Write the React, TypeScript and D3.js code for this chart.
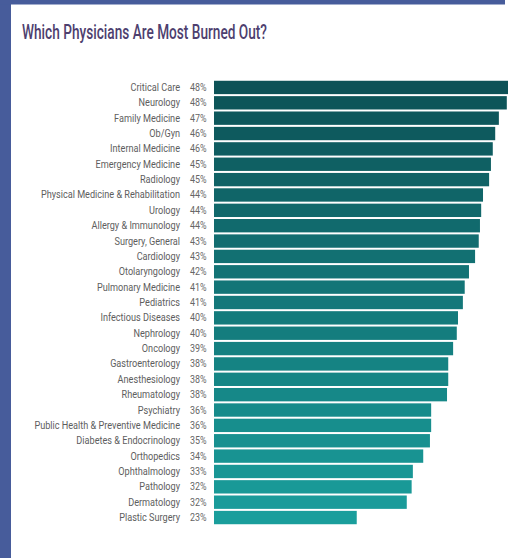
import React from "react";
import * as d3 from "d3";

const specialties = [
  "Critical Care", "Neurology", "Family Medicine", "Ob/Gyn", "Internal Medicine",
  "Emergency Medicine", "Radiology", "Physical Medicine & Rehabilitation", "Urology",
  "Allergy & Immunology", "Surgery, General", "Cardiology", "Otolaryngology",
  "Pulmonary Medicine", "Pediatrics", "Infectious Diseases", "Nephrology", "Oncology",
  "Gastroenterology", "Anesthesiology", "Rheumatology", "Psychiatry",
  "Public Health & Preventive Medicine", "Diabetes & Endocrinology", "Orthopedics",
  "Ophthalmology", "Pathology", "Dermatology", "Plastic Surgery",
];

const percentLabels = [
  "48%", "48%", "47%", "46%", "46%", "45%", "45%", "44%", "44%", "44%", "43%", "43%",
  "42%", "41%", "41%", "40%", "40%", "39%", "38%", "38%", "38%", "36%", "36%", "35%",
  "34%", "33%", "32%", "32%", "23%",
];

const barValues = [
  48.4, 48.0, 46.7, 46.1, 45.7, 45.4, 45.1, 44.1, 43.8, 43.6, 43.4, 42.8, 41.8, 41.1,
  40.8, 40.0, 39.8, 39.2, 38.4, 38.4, 38.2, 35.6, 35.6, 35.4, 34.3, 32.6, 32.4, 31.6, 23.4,
];

const W = 508;
const H = 558;

export default function App() {
  const x = d3.scaleLinear().domain([0, 50]).range([214, 214 + 6.1 * 50]);
  const y = d3
    .scaleBand<string>()
    .domain(specialties)
    .range([80, 525])
    .paddingInner(0.13)
    .paddingOuter(0.05);
  const color = d3
    .scaleLinear<string>()
    .domain([0, specialties.length - 1])
    .range(["#0d5257", "#1a9e9c"])
    .interpolate(d3.interpolateRgb);

  return (
    <svg
      width={W}
      height={H}
      style={{ position: "absolute", left: 0, top: 0, display: "block", background: "#fff" }}
    >
      <rect x={0} y={0} width={W} height={H} fill="#fff" />
      <rect x={0} y={0} width={11} height={H} fill="#475c9b" />
      <rect x={0} y={0} width={505} height={4.5} fill="#475c9b" />
      <text
        x={22}
        y={39}
        fontFamily="Roboto, 'DejaVu Sans', sans-serif"
        fontSize={20}
        fontWeight={500}
        fill="#4e3f6f"
        textLength={245}
        lengthAdjust="spacingAndGlyphs"
      >
        Which Physicians Are Most Burned Out?
      </text>
      {specialties.map((s, i) => {
        const yy = y(s)!;
        const bh = y.bandwidth();
        const cy = yy + bh / 2 + 3.5;
        return (
          <g key={s}>
            <rect
              x={x(0)}
              y={yy}
              width={x(barValues[i]) - x(0)}
              height={bh}
              fill={color(i)}
            />
            <g transform={`translate(180,${cy}) scale(0.87,1)`}>
              <text
                textAnchor="end"
                fontFamily="Roboto, sans-serif"
                fontSize={10.5}
                fill="#5e5e5e"
              >
                {s}
              </text>
            </g>
            <g transform={`translate(190,${cy}) scale(0.85,1)`}>
              <text fontFamily="Roboto, sans-serif" fontSize={10.5} fill="#666">
                {percentLabels[i]}
              </text>
            </g>
          </g>
        );
      })}
    </svg>
  );
}
